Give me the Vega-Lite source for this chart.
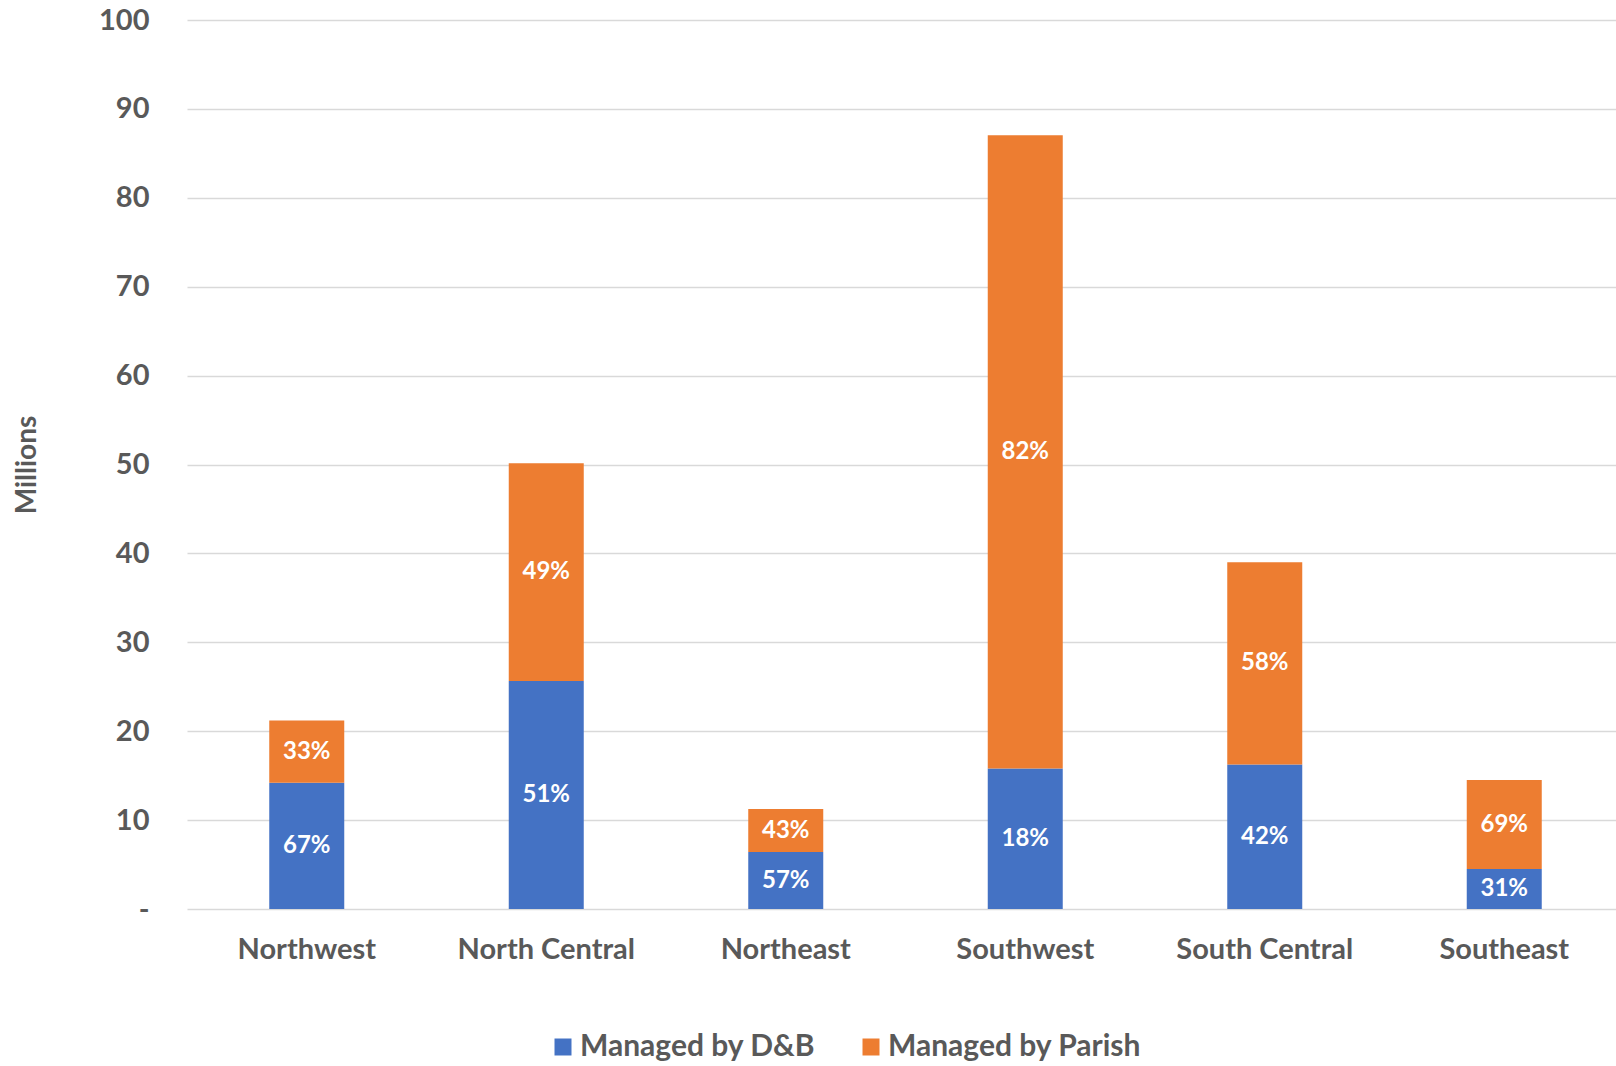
{
  "$schema": "https://vega.github.io/schema/vega-lite/v6.json",
  "width": 1437,
  "height": 889,
  "autosize": {"type": "none"},
  "padding": {"left": 187, "top": 20, "right": 0, "bottom": 157},
  "background": "white",
  "config": {
    "view": {"stroke": null},
    "font": "Lato",
    "axis": {"labelFont": "Lato", "titleFont": "Lato"}
  },
  "data": {
    "values": [
      {"region": "Northwest", "series": "Managed by D&B", "value": 14.2, "label": "67%"},
      {"region": "Northwest", "series": "Managed by Parish", "value": 7.0, "label": "33%"},
      {"region": "North Central", "series": "Managed by D&B", "value": 25.65, "label": "51%"},
      {"region": "North Central", "series": "Managed by Parish", "value": 24.5, "label": "49%"},
      {"region": "Northeast", "series": "Managed by D&B", "value": 6.4, "label": "57%"},
      {"region": "Northeast", "series": "Managed by Parish", "value": 4.85, "label": "43%"},
      {"region": "Southwest", "series": "Managed by D&B", "value": 15.8, "label": "18%"},
      {"region": "Southwest", "series": "Managed by Parish", "value": 71.25, "label": "82%"},
      {"region": "South Central", "series": "Managed by D&B", "value": 16.25, "label": "42%"},
      {"region": "South Central", "series": "Managed by Parish", "value": 22.75, "label": "58%"},
      {"region": "Southeast", "series": "Managed by D&B", "value": 4.5, "label": "31%"},
      {"region": "Southeast", "series": "Managed by Parish", "value": 10.0, "label": "69%"}
    ]
  },
  "transform": [
    {"calculate": "datum.series == 'Managed by D&B' ? 0 : 1", "as": "order"},
    {"stack": "value", "groupby": ["region"], "sort": [{"field": "order"}], "as": ["v0", "v1"]},
    {"calculate": "(datum.v0 + datum.v1) / 2", "as": "mid"}
  ],
  "encoding": {
    "x": {
      "field": "region",
      "type": "nominal",
      "sort": ["Northwest", "North Central", "Northeast", "Southwest", "South Central", "Southeast"],
      "scale": {"paddingInner": 0, "paddingOuter": 0},
      "axis": {
        "title": null,
        "labelAngle": 0,
        "labelFontSize": 29,
        "labelFontWeight": "bold",
        "labelColor": "#595959",
        "labelPadding": 26,
        "labelLimit": 0,
        "ticks": false,
        "domain": false
      }
    }
  },
  "layer": [
    {
      "mark": {"type": "bar", "width": 75},
      "encoding": {
        "y": {
          "field": "v0",
          "type": "quantitative",
          "scale": {"domain": [0, 100]},
          "axis": {
            "title": "Millions",
            "titleFontSize": 28,
            "titleFontWeight": "bold",
            "titleColor": "#595959",
            "titleX": -146,
            "titlePadding": 0,
            "values": [0, 10, 20, 30, 40, 50, 60, 70, 80, 90, 100],
            "labelExpr": "datum.value == 0 ? '-' : datum.label",
            "labelFontSize": 29,
            "labelFontWeight": "bold",
            "labelColor": "#595959",
            "labelPadding": 38,
            "ticks": false,
            "domain": false,
            "gridColor": "#d9d9d9",
            "gridWidth": 1.5
          }
        },
        "y2": {"field": "v1"},
        "color": {
          "field": "series",
          "type": "nominal",
          "scale": {"domain": ["Managed by D&B", "Managed by Parish"], "range": ["#4472C4", "#ED7D31"]},
          "legend": {
            "title": null,
            "orient": "none",
            "direction": "horizontal",
            "legendX": 361,
            "legendY": 1012,
            "symbolType": "square",
            "symbolSize": 289,
            "symbolStrokeWidth": 0,
            "labelFontSize": 30,
            "labelFontWeight": "bold",
            "labelColor": "#595959",
            "labelFont": "Lato",
            "labelLimit": 0,
            "columnPadding": 40,
            "labelOffset": 2
          }
        }
      }
    },
    {
      "mark": {"type": "text", "color": "white", "fontSize": 24, "fontWeight": "bold", "font": "Lato", "baseline": "middle"},
      "encoding": {
        "y": {"field": "mid", "type": "quantitative"},
        "text": {"field": "label"}
      }
    }
  ]
}
